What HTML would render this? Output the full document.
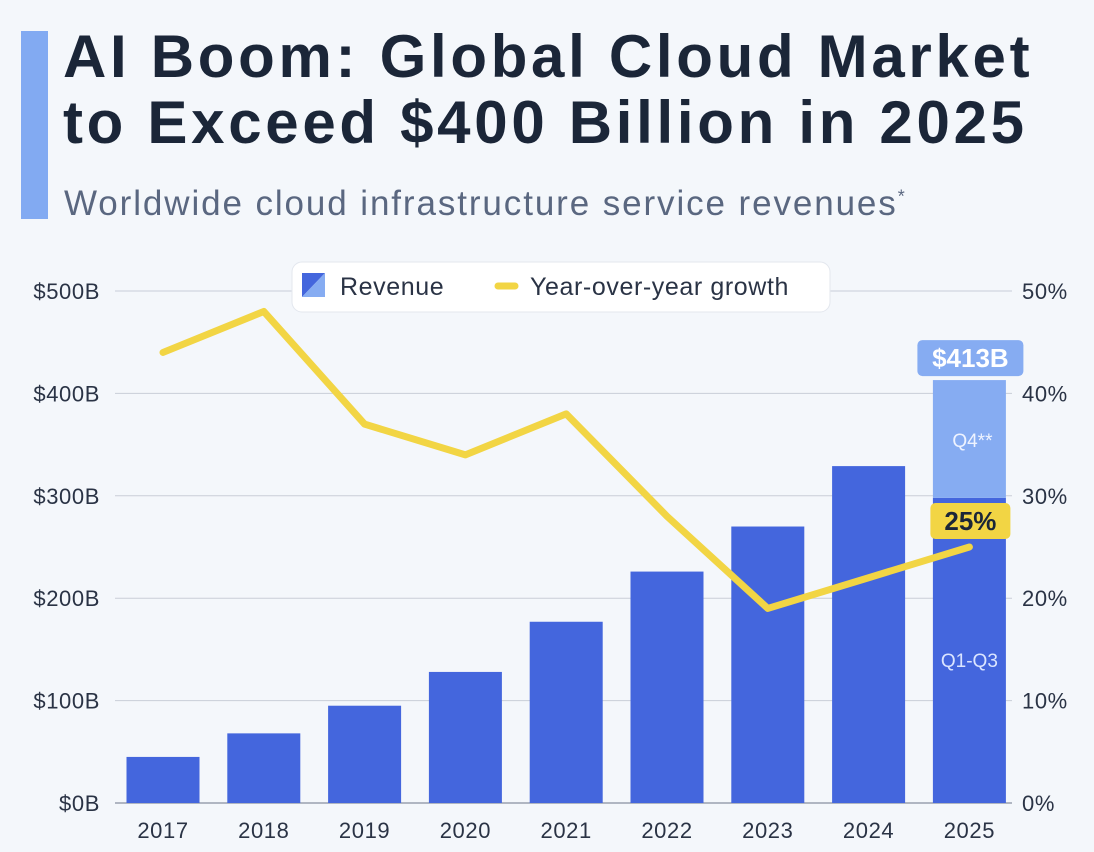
<!DOCTYPE html>
<html><head><meta charset="utf-8"><style>
body{margin:0;width:1094px;height:852px;background:#f4f7fb;font-family:"Liberation Sans","DejaVu Sans",sans-serif;overflow:hidden;position:relative}
.bar-accent{position:absolute;left:21px;top:31px;width:27px;height:188px;background:#82aaf2}
h1{position:absolute;left:63px;top:24px;margin:0;font-size:60px;line-height:66px;font-weight:bold;color:#1b2638;letter-spacing:3.7px;white-space:nowrap}
.sub{position:absolute;left:64px;top:184px;font-size:35px;color:#5a6780;letter-spacing:1.9px;white-space:nowrap}
</style></head><body>
<div class="bar-accent"></div>
<h1>AI Boom: Global Cloud Market<br>to Exceed $400 Billion in 2025</h1>
<div class="sub">Worldwide cloud infrastructure service revenues<sup style="font-size:18px">*</sup></div>
<svg id="chart" width="1094" height="852" style="position:absolute;left:0;top:0"></svg>
<script>
const years=["2017","2018","2019","2020","2021","2022","2023","2024","2025"];
const revenue=[45,68,95,128,177,226,270,329,298];
const q4Extra=[0,0,0,0,0,0,0,0,115];
const growth=[44,48,37,34,38,28,19,22,25];
const leftTicks=[0,100,200,300,400,500];
const rightTicks=[0,10,20,30,40,50];
const NS="http://www.w3.org/2000/svg";
const svg=document.getElementById('chart');
const y0=803,y500=291;
const yL=v=>y0-(v/500)*(y0-y500);
const yR=v=>y0-(v/50)*(y0-y500);
const xC=i=>163+i*100.8;
const bw=73;
function mk(t,a,txt){const e=document.createElementNS(NS,t);for(const k in a)e.setAttribute(k,a[k]);if(txt!==undefined)e.textContent=txt;svg.appendChild(e);return e;}
leftTicks.forEach((v,i)=>{
 let l=mk('line',{x1:115,x2:1012,y1:yL(v),y2:yL(v),stroke:v===0?'#6b7488':'#c9ced8','stroke-width':1});
 
 
 let t=mk('text',{x:100,y:yL(v)+8,'text-anchor':'end','font-size':22,fill:'#2a3345','letter-spacing':0.6},'$'+v+'B');
 
 
});
rightTicks.forEach(v=>{
 let t=mk('text',{x:1022,y:yR(v)+8,'font-size':22,fill:'#2a3345','letter-spacing':0.6},v+'%');
 
 
});
years.forEach((yr,i)=>{
 let r=mk('rect',{x:xC(i)-bw/2,y:yL(revenue[i]),width:bw,height:yL(0)-yL(revenue[i]),fill:'#4466dd'});
 
 
 if(q4Extra[i]>0){
  let top=revenue[i]+q4Extra[i];
  let q=mk('rect',{x:xC(i)-bw/2,y:yL(top),width:bw,height:yL(revenue[i])-yL(top),fill:'#86acf2'});
  
  
  let qt=mk('text',{x:xC(i)+3,y:(yL(top)+yL(revenue[i]))/2+8,'text-anchor':'middle','font-size':19,fill:'#eef3ff'},'Q4**');
  
  
  let lt=mk('text',{x:xC(i),y:yL(0)-136,'text-anchor':'middle','font-size':19,fill:'#dbe5ff'},'Q1-Q3');
  
  
  let bx=mk('rect',{x:xC(i)-52,y:yL(top)-40,width:106,height:36,rx:5,fill:'#86acf2'});
  
  
  let tt=mk('text',{x:xC(i)+1,y:yL(top)-13,'text-anchor':'middle','font-size':26,'font-weight':'bold',fill:'#fff'},'$'+top+'B');
  
  
 }
 let xt=mk('text',{x:xC(i),y:838,'text-anchor':'middle','font-size':22,fill:'#2a3345','letter-spacing':0.6},yr);
 
 
});
let pts=growth.map((g,i)=>xC(i)+','+yR(g)).join(' ');
let pl=mk('polyline',{points:pts,fill:'none',stroke:'#f2d544','stroke-width':7,'stroke-linecap':'round','stroke-linejoin':'round'});


const li=growth.length-1;
let gb=mk('rect',{x:xC(li)-39,y:yR(growth[li])-44,width:80,height:36,rx:5,fill:'#f2d544'});


let gt=mk('text',{x:xC(li)+1,y:yR(growth[li])-17,'text-anchor':'middle','font-size':26,'font-weight':'bold',fill:'#1b2638'},growth[li]+'%');


let lg=mk('rect',{x:292,y:262,width:538,height:50,rx:10,fill:'#fff',stroke:'#e3e7ee'});


let p1=mk('polygon',{points:'302,273 325,273 302,297',fill:'#4466dd'});


let p2=mk('polygon',{points:'325,273 325,297 302,297',fill:'#86acf2'});


let l1=mk('text',{x:340,y:295,'font-size':25,fill:'#2a3345','letter-spacing':0.6},'Revenue');


let ll=mk('line',{x1:498,x2:515,y1:286,y2:286,stroke:'#f2d544','stroke-width':7,'stroke-linecap':'round'});


let l2=mk('text',{x:530,y:295,'font-size':25,fill:'#2a3345','letter-spacing':0.6},'Year-over-year growth');


</script>
</body></html>
